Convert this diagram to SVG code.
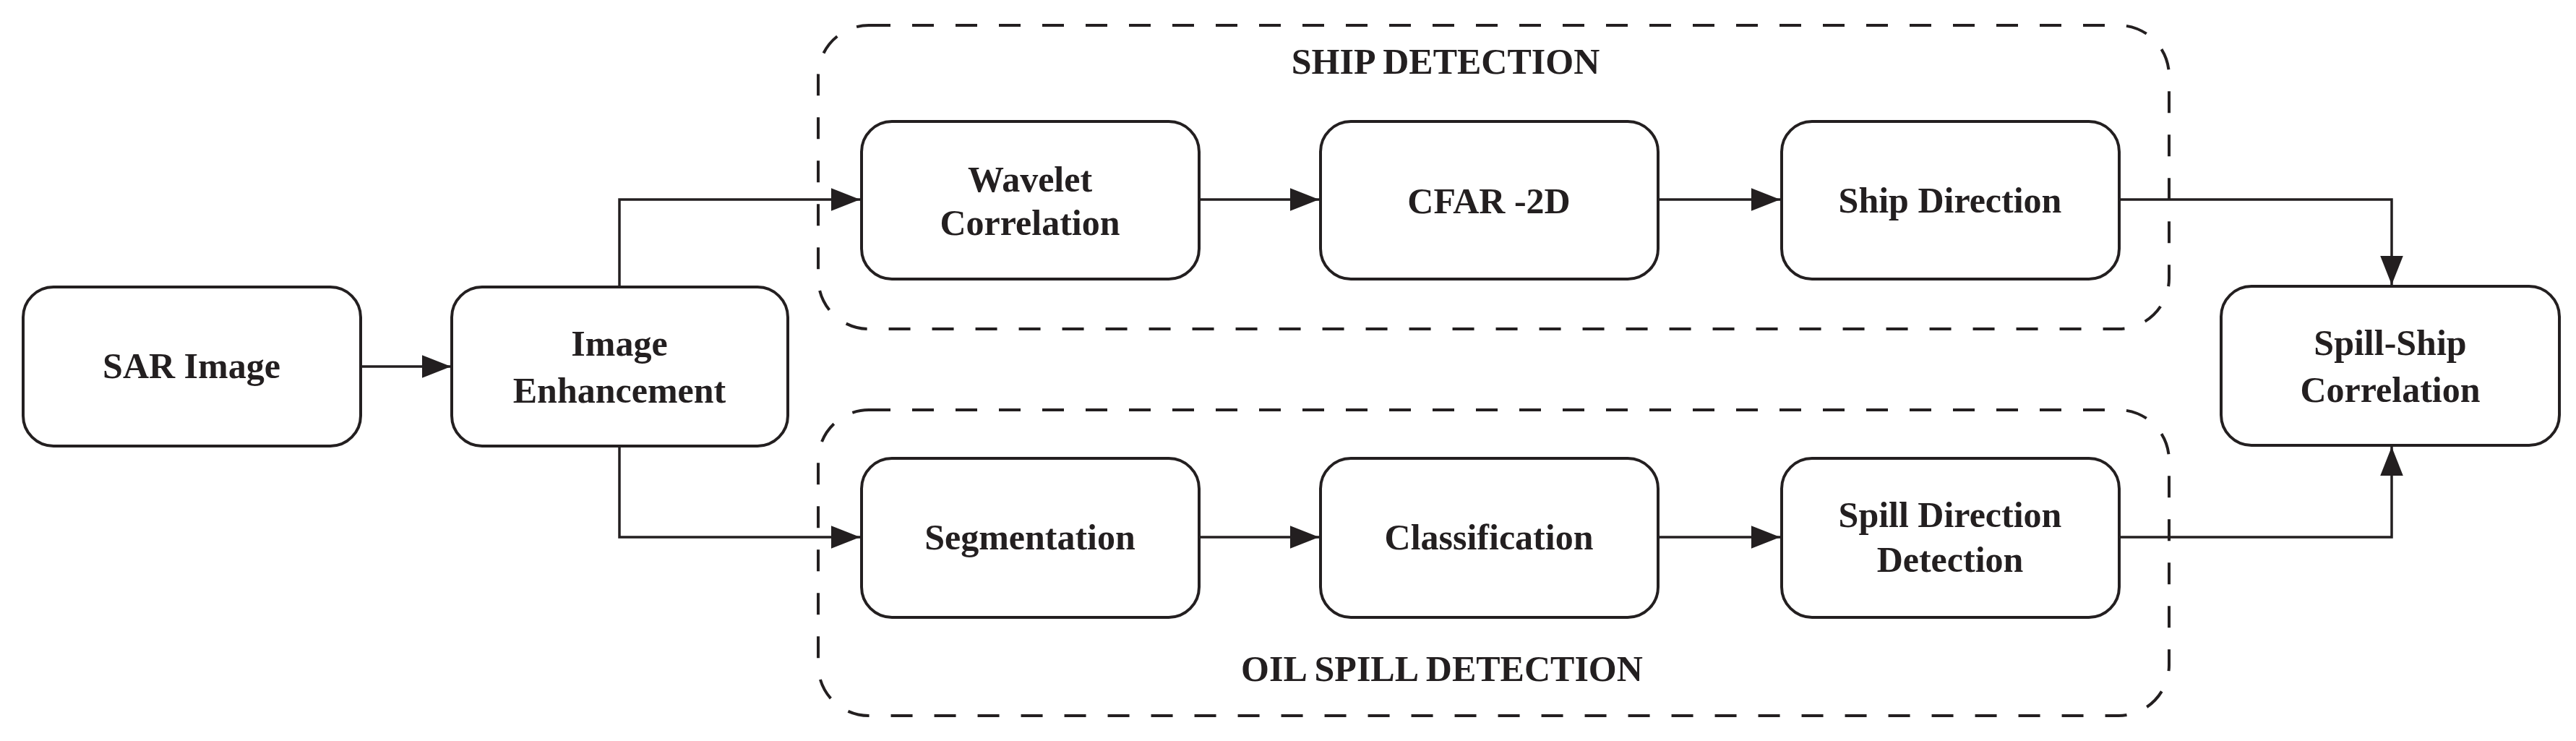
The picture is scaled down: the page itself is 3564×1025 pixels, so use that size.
<svg xmlns="http://www.w3.org/2000/svg" width="3564" height="1025" viewBox="0 0 3564 1025">
<style>
.node{fill:#ffffff;stroke:#231f20;stroke-width:4}
.grp{fill:none;stroke:#231f20;stroke-width:4;stroke-dasharray:30 30}
.lbl{font-family:"Liberation Serif","Times New Roman",serif;font-weight:bold;font-size:50px;fill:#231f20;text-anchor:middle}
.conn{fill:none;stroke:#231f20;stroke-width:3.5}
</style>
<defs>
<marker id="arr" markerUnits="userSpaceOnUse" markerWidth="40" markerHeight="32" viewBox="0 0 38 30" refX="38" refY="15" orient="auto">
<path d="M0,0 L38,15 L0,30 Z" fill="#231f20"/>
</marker>
</defs>
<rect width="3564" height="1025" fill="#ffffff"/>
<g id="ship-detection-group">
<rect class="grp" x="1132" y="35" width="1869" height="420" rx="70" ry="70"/>
<text class="lbl" x="2000" y="102">SHIP DETECTION</text>
</g>
<g id="oil-spill-detection-group">
<rect class="grp" x="1132" y="567" width="1869" height="423" rx="70" ry="70"/>
<text class="lbl" x="1995" y="942">OIL SPILL DETECTION</text>
</g>
<g id="connectors">
<path class="conn" d="M499 507 H624" marker-end="url(#arr)"/>
<path class="conn" d="M857 397 V276 H1190" marker-end="url(#arr)"/>
<path class="conn" d="M857 617 V743 H1190" marker-end="url(#arr)"/>
<path class="conn" d="M1659 276 H1825" marker-end="url(#arr)"/>
<path class="conn" d="M2294 276 H2463" marker-end="url(#arr)"/>
<path class="conn" d="M1659 743 H1825" marker-end="url(#arr)"/>
<path class="conn" d="M2294 743 H2463" marker-end="url(#arr)"/>
<path class="conn" d="M2932 276 H3309 V394" marker-end="url(#arr)"/>
<path class="conn" d="M2932 743 H3309 V618" marker-end="url(#arr)"/>
</g>
<g id="sar-image">
<rect class="node" x="32" y="397" width="467" height="220" rx="42" ry="42"/>
<text class="lbl" x="265" y="523">SAR Image</text>
</g>
<g id="image-enhancement">
<rect class="node" x="625" y="397" width="465" height="220" rx="42" ry="42"/>
<text class="lbl" x="857" y="492">Image</text>
<text class="lbl" x="857" y="557">Enhancement</text>
</g>
<g id="wavelet-correlation">
<rect class="node" x="1192" y="168" width="467" height="218" rx="42" ry="42"/>
<text class="lbl" x="1425" y="265">Wavelet</text>
<text class="lbl" x="1425" y="325">Correlation</text>
</g>
<g id="cfar-2d">
<rect class="node" x="1827" y="168" width="467" height="218" rx="42" ry="42"/>
<text class="lbl" x="2060" y="295">CFAR -2D</text>
</g>
<g id="ship-direction">
<rect class="node" x="2465" y="168" width="467" height="218" rx="42" ry="42"/>
<text class="lbl" x="2698" y="294">Ship Direction</text>
</g>
<g id="segmentation">
<rect class="node" x="1192" y="634" width="467" height="220" rx="42" ry="42"/>
<text class="lbl" x="1425" y="760">Segmentation</text>
</g>
<g id="classification">
<rect class="node" x="1827" y="634" width="467" height="220" rx="42" ry="42"/>
<text class="lbl" x="2060" y="760">Classification</text>
</g>
<g id="spill-direction-detection">
<rect class="node" x="2465" y="634" width="467" height="220" rx="42" ry="42"/>
<text class="lbl" x="2698" y="729">Spill Direction</text>
<text class="lbl" x="2698" y="791">Detection</text>
</g>
<g id="spill-ship-correlation">
<rect class="node" x="3073" y="396" width="468" height="220" rx="42" ry="42"/>
<text class="lbl" x="3307" y="491">Spill-Ship</text>
<text class="lbl" x="3307" y="556">Correlation</text>
</g>
</svg>
